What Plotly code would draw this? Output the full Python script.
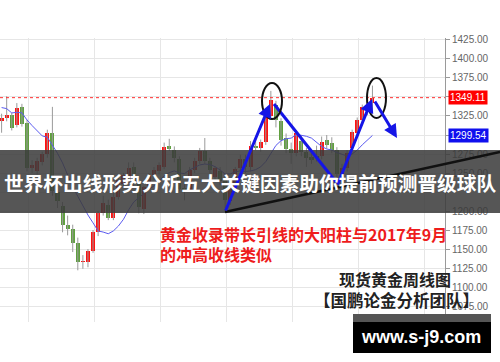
import plotly.graph_objects as go
import pandas as pd

# ---- data (weekly spot gold) ----
prior_closes = [1340, 1366, 1327, 1322, 1350, 1335, 1336, 1341, 1321]
opens = [1319,1323,1326,1313,1337,1316,1257,1252,1264,1275,
         1303,1225,1207,1182,1177,1158,1133,1133,1148,1172,
         1197,1208,1191,1219,1236,1243,1258,1235,1203,1233,
         1248,1252,1258,1285,1280,1268,1229,1228,1254,1266,
         1279,1266,1245,1252,1241,1213,1230,1256,1268,1258,
         1286,1283,1291,1325,1340,1318,1296,1281,1276,1292,
         1277,1271,1273,1273,1293,1290,1280,1246,1257,1283,
         1303,1320,1339,1342]
highs = [1328,1351,1329,1342,1341,1320,1267,1270,1278,1307,
         1337,1232,1212,1194,1182,1165,1142,1150,1175,1200,
         1220,1215,1230,1245,1250,1264,1264,1240,1233,1250,
         1258,1264,1290,1295,1285,1272,1236,1258,1270,1283,
         1296,1270,1259,1258,1246,1236,1258,1274,1274,1292,
         1296,1294,1331,1358,1345,1322,1302,1290,1306,1300,
         1283,1280,1286,1298,1300,1297,1284,1262,1280,1307,
         1323,1340,1344,1365]
lows = [1303,1318,1306,1310,1311,1252,1250,1248,1260,1270,
        1220,1204,1172,1168,1146,1122,1124,1126,1145,1167,
        1194,1188,1188,1215,1232,1240,1232,1197,1196,1228,
        1241,1248,1255,1279,1264,1226,1214,1225,1250,1262,
        1262,1250,1240,1234,1204,1208,1226,1250,1250,1252,
        1280,1278,1287,1321,1310,1286,1276,1262,1272,1272,
        1258,1262,1265,1268,1282,1276,1236,1238,1252,1280,
        1300,1316,1326,1332]
closes = [1323,1326,1309,1336,1314,1257,1261,1266,1275,1303,
          1226,1213,1182,1176,1158,1133,1134,1147,1172,1197,
          1211,1191,1219,1241,1247,1257,1236,1205,1232,1248,
          1254,1260,1284,1282,1270,1229,1228,1254,1266,1279,
          1266,1254,1256,1239,1214,1232,1255,1268,1258,1285,
          1283,1291,1325,1346,1320,1294,1281,1276,1303,1277,
          1270,1267,1270,1291,1287,1280,1249,1257,1276,1304,
          1320,1337,1335,1349]
last_price = 1349.11
ma_label = 1299.54
y_ticks = [1075, 1100, 1125, 1150, 1175, 1200, 1225, 1250, 1275,
           1300, 1325, 1350, 1375, 1400, 1425]
hidden_tick_labels = [1225, 1300, 1350]   # covered by banner / price boxes
x_grid = [5.2, 18.2, 31.2, 44.2, 57.2, 70.3, 83.3]

banner_text = "世界杯出线形势分析五大关键因素助你提前预测晋级球队"
note_line1 = "黄金收录带长引线的大阳柱与2017年9月"
note_line2 = "的冲高收线类似"
title1 = "现货黄金周线图"
title2 = "【国鹏论金分析团队】"
site = "www.s-j9.com"

# ---- derived ----
idx = list(range(len(closes)))
ma10 = pd.Series(prior_closes + closes).rolling(10).mean().tolist()[len(prior_closes):]

wx, wy = [], []
for i, h, l in zip(idx, highs, lows):
    wx += [i, i, None]
    wy += [l, h, None]
body_colors = ["#ff1111" if c >= o else "#5f9f3f" for o, c in zip(opens, closes)]

# layout geometry (pixels)
W, H = 500, 362
PL, PR, PT, PB = 0, 445, 38, 322
def px(x):
    return (x - PL) / (PR - PL)
def py(y):
    return (PB - y) / (PB - PT)

fig = go.Figure()
fig.add_trace(go.Scatter(x=wx, y=wy, mode="lines",
                         line=dict(color="#9a9a9a", width=1), hoverinfo="skip"))
fig.add_trace(go.Bar(x=idx, y=[c - o for o, c in zip(opens, closes)], base=opens,
                     width=0.8, marker=dict(color=body_colors, line=dict(width=0))))
fig.add_trace(go.Scatter(x=idx, y=ma10, mode="lines",
                         line=dict(color="#5b5bf0", width=1)))

shapes = []
shapes.append(dict(type="line", xref="paper", yref="y", x0=0, x1=1,
                   y0=last_price, y1=last_price,
                   line=dict(color="#ff3030", width=1, dash="dot")))
shapes.append(dict(type="rect", xref="paper", yref="paper",
                   x0=px(0), x1=px(500), y0=py(213), y1=py(150),
                   fillcolor="rgba(58,58,58,0.86)", line=dict(width=0), layer="above"))
shapes.append(dict(type="line", xref="paper", yref="paper",
                   x0=px(225), y0=py(212), x1=px(500), y1=py(152),
                   line=dict(color="#111111", width=2.5), layer="above"))
shapes.append(dict(type="line", xref="paper", yref="paper",
                   x0=px(274), y0=py(104), x1=px(336), y1=py(182),
                   line=dict(color="#1515e6", width=3), layer="above"))
shapes.append(dict(type="circle", xref="paper", yref="paper",
                   x0=px(262), x1=px(282), y0=py(119), y1=py(83),
                   line=dict(color="#111111", width=2), layer="above"))
shapes.append(dict(type="circle", xref="paper", yref="paper",
                   x0=px(367), x1=px(386), y0=py(118), y1=py(78),
                   line=dict(color="#111111", width=2), layer="above"))
shapes.append(dict(type="rect", xref="paper", yref="paper",
                   x0=px(353), x1=px(491), y0=py(322), y1=py(314),
                   fillcolor="#555555", line=dict(width=0), layer="above"))
shapes.append(dict(type="rect", xref="paper", yref="paper",
                   x0=px(353), x1=px(491), y0=py(353), y1=py(322),
                   fillcolor="#000000", line=dict(width=0), layer="above"))

ann = []
def arrow(hx, hy, tx, ty):
    ann.append(dict(xref="paper", yref="paper", x=px(hx), y=py(hy),
                    ax=tx - hx, ay=ty - hy, showarrow=True, text="",
                    arrowcolor="#1515e6", arrowwidth=3, arrowhead=2, arrowsize=0.9,
                    standoff=0, startstandoff=0))
arrow(270, 104, 225, 212)
arrow(372, 99, 337, 186)
arrow(397, 138, 374, 100)

ann.append(dict(xref="paper", yref="paper", x=px(250), y=py(182),
                text="<b>%s</b>" % banner_text, showarrow=False,
                font=dict(family="Noto Sans CJK SC", size=19.7, color="white"),
                xanchor="center", yanchor="middle"))
ann.append(dict(xref="paper", yref="paper", x=px(158), y=py(234),
                text="<b>%s</b>" % note_line1, showarrow=False,
                font=dict(family="Noto Sans CJK SC", size=16, color="#ee1c1c"),
                xanchor="left", yanchor="middle"))
ann.append(dict(xref="paper", yref="paper", x=px(158), y=py(254),
                text="<b>%s</b>" % note_line2, showarrow=False,
                font=dict(family="Noto Sans CJK SC", size=16, color="#ee1c1c"),
                xanchor="left", yanchor="middle"))
ann.append(dict(xref="paper", yref="paper", x=px(395), y=py(279),
                text="<b>%s</b>" % title1, showarrow=False,
                font=dict(family="Noto Sans CJK SC", size=16, color="#222222"),
                xanchor="center", yanchor="middle"))
ann.append(dict(xref="paper", yref="paper", x=px(396.5), y=py(300),
                text="<b>%s</b>" % title2, showarrow=False,
                font=dict(family="Noto Sans CJK SC", size=16.5, color="#222222"),
                xanchor="center", yanchor="middle"))
ann.append(dict(xref="paper", yref="paper", x=px(421), y=py(337),
                text="<b>%s</b>" % site, showarrow=False,
                font=dict(family="Liberation Sans", size=18, color="white"),
                xanchor="center", yanchor="middle"))
ann.append(dict(xref="paper", yref="y", x=px(448), y=last_price,
                text="%.2f" % last_price, showarrow=False, bgcolor="#ff0000",
                font=dict(family="Liberation Sans", size=10, color="white"),
                xanchor="left", yanchor="middle", borderpad=1))
ann.append(dict(xref="paper", yref="y", x=px(448), y=ma_label,
                text="%.2f" % ma_label, showarrow=False, bgcolor="#1010ee",
                font=dict(family="Liberation Sans", size=10, color="white"),
                xanchor="left", yanchor="middle", borderpad=1))

fig.update_layout(
    width=W, height=H, autosize=False,
    margin=dict(l=PL, r=W - PR, t=PT, b=H - PB, pad=0),
    paper_bgcolor="white", plot_bgcolor="white",
    showlegend=False, shapes=shapes, annotations=ann, bargap=0,
    xaxis=dict(range=[-0.315, 87.28], tickvals=x_grid, showticklabels=False,
               showgrid=True, gridcolor="#e6e6e6", gridwidth=1, zeroline=False,
               showline=False, ticks=""),
    yaxis=dict(range=[1054, 1427.6], side="right", tickvals=y_ticks,
               ticktext=["" if v in hidden_tick_labels else "%.2f" % v for v in y_ticks],
               showgrid=True, gridcolor="#e6e6e6", gridwidth=1, zeroline=False,
               showline=True, linecolor="#9a9a9a", linewidth=1,
               ticks="outside", ticklen=4, tickcolor="#9a9a9a",
               tickfont=dict(family="Liberation Sans", size=10, color="#666666")),
)

fig.write_html("out.html")
